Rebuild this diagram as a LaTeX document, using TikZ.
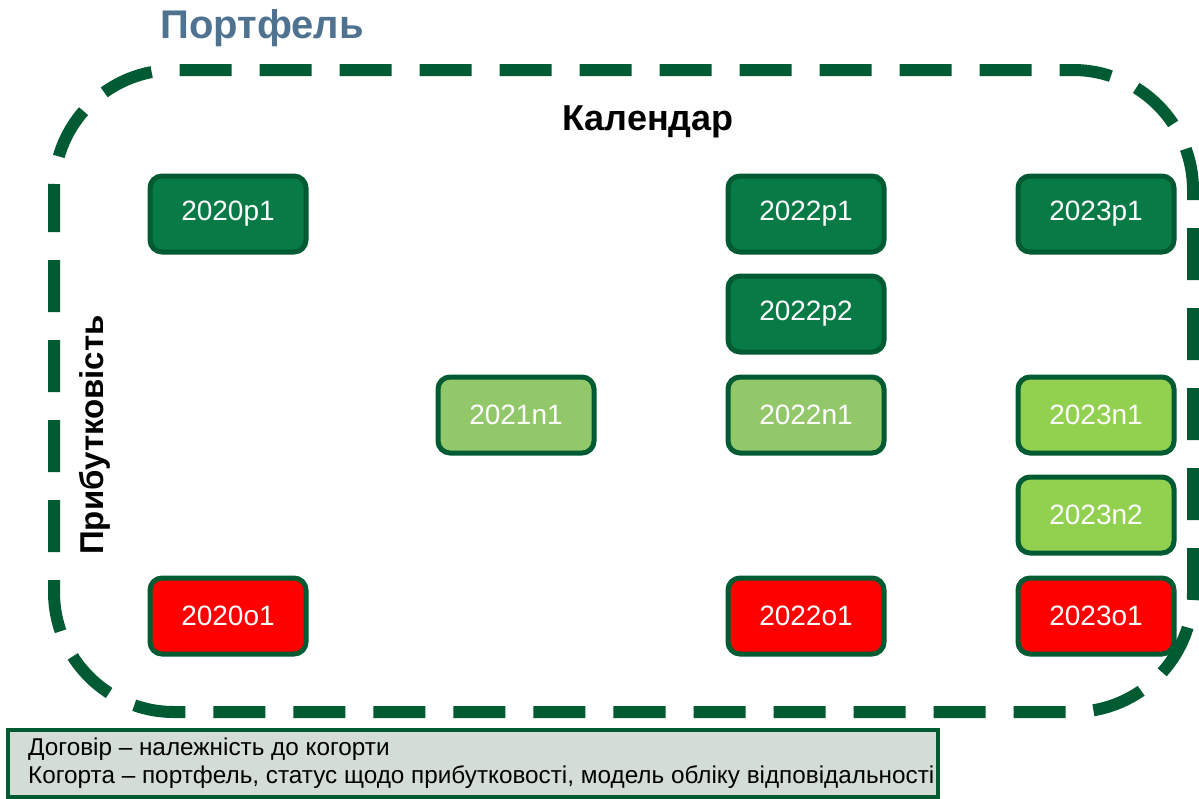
\documentclass[tikz,border=0pt]{standalone}
\usepackage{fontspec}
\setmainfont{Liberation Sans}
\usetikzlibrary{positioning}
\definecolor{darkframe}{HTML}{005A32}
\definecolor{profgreen}{HTML}{077A45}
\definecolor{neutgreen}{HTML}{92C86A}
\definecolor{neutbright}{HTML}{92D050}
\definecolor{lossred}{HTML}{FF0000}
\definecolor{titleblue}{HTML}{4E7290}
\definecolor{notefill}{HTML}{D3DDD5}
\tikzset{cohort/.style = {draw=darkframe, line width=5pt, rounded corners=12pt,
                  minimum height=76pt, minimum width=156pt, text=white,
                  font=\fontsize{28}{28}\selectfont},
        profit/.style = {cohort, fill=profgreen},
        neutral/.style = {cohort, fill=neutgreen},
        neutralb/.style = {cohort, fill=neutbright},
        loss/.style = {cohort, fill=lossred}
    }

\begin{document}
\begin{tikzpicture}[x=1pt, y=-1pt]
          \tikzstyle{axislabel} = [font=\bfseries\fontsize{33}{33}\selectfont]
          \useasboundingbox (0,0) rectangle (1199,798);

          % portfolio frame
          \draw[darkframe, line width=12pt, rounded corners=120pt,
                dash pattern=on 52pt off 28pt, dash phase=10pt] (54,70) rectangle (1193,712);
          \node[font=\bfseries\fontsize{40}{40}\selectfont, text=titleblue, anchor=west] (title) at (157,28) {Портфель};
          \node[axislabel, font=\bfseries\fontsize{36}{36}\selectfont] (cal) at (648,122) {Календар};
          \node[axislabel, rotate=90] (prof) at (95,435) {Прибутковість};

          % cohorts
          \node[profit] (p20) at (228,214) {2020p1};
          \node[profit] (p22) at (806,214) {2022p1};
          \node[profit] (p23) at (1096,214) {2023p1};
          \node[profit, below = 19pt of p22] (p22b) {2022p2};
          \node[neutral] (n21) at (516,415) {2021n1};
          \node[neutral] (n22) at (806,415) {2022n1};
          \node[neutralb] (n23) at (1096,415) {2023n1};
          \node[neutralb, below = 19pt of n23] (n23b) {2023n2};
          \node[loss] (o20) at (228,616) {2020o1};
          \node[loss] (o22) at (806,616) {2022o1};
          \node[loss] (o23) at (1096,616) {2023o1};

          % note
          \draw[darkframe, line width=4pt, fill=notefill] (8,730) rectangle (938,797);
          \node[anchor=north west, align=left, inner sep=0pt,
                font=\fontsize{24.3}{28}\selectfont] (note) at (28,738)
                {Договір – належність до когорти\\Когорта – портфель, статус щодо прибутковості, модель обліку відповідальності};
        \end{tikzpicture}
\end{document}
